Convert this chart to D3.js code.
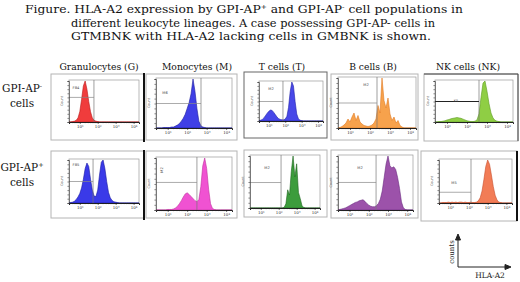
<!DOCTYPE html>
<html>
<head>
<meta charset="utf-8">
<script src="https://cdn.jsdelivr.net/npm/d3@7"></script>
<style>
  body { margin: 0; background: #fff; }
  svg { display: block; }
</style>
</head>
<body>
<div id="chart"></div>
<script>
// ---- data ----
const captionLines = [
  [["Figure. HLA-A2 expression by GPI-AP"], ["+", 1], [" and GPI-AP"], ["-", 1], [" cell populations in"]],
  [["different leukocyte lineages. A case possessing GPI-AP- cells in"]],
  [["GTMBNK with HLA-A2 lacking cells in GMBNK is shown."]]
];
const lineages = ["Granulocytes (G)", "Monocytes (M)", "T cells (T)", "B cells (B)", "NK cells (NK)"];
const rowLabels = [["GPI-AP", "-"], ["GPI-AP", "+"]];
const decadeTicks = [1, 2, 3, 4];
const tickLabels = ["10\u00b9", "10\u00b2", "10\u00b3", "10\u2074"];
const binDecades = d3.range(4, 44).map(i => i / 10); // 0.4 .. 4.3 log decades

// counts per bin (% of peak), row 1 = GPI-AP- , row 2 = GPI-AP+
const histG1  = [0,0,1,2,4,10,25,55,88,100,80,50,25,10,4,2,1, 0,0,0,0,0,0,0,0,0,0,0,0,0,0,0,0,0,0,0,0,0,0,0];
const histM1  = [0,0,0,0,1,1,1,1,2, 2,4,6,9,14,20,28,40,52,70,100,75,40,14,5,2,1, 0,0,0,0,0,0,0,0,0,0,0,0,0,0];
const histT1  = [1,2,4,8,14,20,25,28,27,22,16,10,6,4,3,3,5,12,35,75,100,90,50,18,6,2,1, 0,0,0,0,0,0,0,0,0,0,0,0,0];
const histB1  = [0,1,3,6,10,18,12,22,30,15,25,12,8,5,4,3,4,6,10,18,45,30,100,55,40,60,28,15,22,10,15,5,2, 0,0,0,0,0,0,0];
const histNK1 = [0,0,1,1,2,3,5,6,8,9,10,11,10,9,7,5,3,2,1,1,2,5,20,60,95,100,75,45,22,10,4,2,1, 0,0,0,0,0,0,0];
const histG2  = [0,1,2,4,8,14,22,35,55,80,93,85,55,30,16,15,30,65,95,100,80,50,25,12,6,3,2,1, 0,0,0,0,0,0,0,0,0,0,0,0];
const histM2  = [0,0,0,0,0,0,1,1,1, 2,4,7,12,18,25,31,33,30,26,22,18,16,20,45,85,100,80,40,12,3,1, 0,0,0,0,0,0,0,0,0];
const histT2  = [0,0,0,0,0,0,0,0,0,0,0,0,0,0,0,0,0,0,0, 1, 8,35,25,70,100,60,85,30,18,4,1, 0,0,0,0,0,0,0,0,0];
const histB2  = [0,1,2,3,4,6,8,10,12,14,15,17,18,19,16,12,9,7,6,6,8,12,20,35,60,85,100,82,78,80,75,60,40,15,4,1, 0,0,0,0];
const histNK2 = [0,0,1,1,1,2,1,2,1,2,1,2,2,1,2,1,1,2,1,1,2,5,12,28,55,85,100,90,65,38,18,7,2,1, 0,0,0,0,0,0];

const gateDecade = [1.79, 2.71, 1.86, 2.35, 2.6, 1.74, 2.5, 2.13, 2.38, 2.11];
const gateLevel  = [60, 50, 50, 50, 50, 50, 53, 49, 51, 25];
const gateNames  = ["FB4", "M6", "M2", "M2", "K5", "FB5", "M2", "M2", "M2", "M5"];

// ---- layout ----
const W = 520, H = 282;
const hists = [histG1, histM1, histT1, histB1, histNK1, histG2, histM2, histT2, histB2, histNK2];
const fills   = ["#f03c3c", "#3f3fe6", "#4848e8", "#f7a24c", "#8fce44", "#3a3ae8", "#f052d2", "#3c9c3c", "#9c52aa", "#f27c56"];
const strokes = ["#b81818", "#1c1c9c", "#2020a8", "#e07820", "#5c9a22", "#1a1aa0", "#c0309e", "#1c641c", "#6a2a80", "#c84e2c"];
// frame [x0,y0,x1,y1], plot box [x0,y0,x1,y1], label position
const frames = [
  [51, 74, 144, 140], [146, 74, 237, 140], [244, 72, 327, 138], [331, 74, 418, 140], [424, 74, 518, 141],
  [51, 151, 144, 218], [146, 151, 237, 218], [244, 150, 327, 217], [331, 150, 418, 218], [421, 151, 517, 221]
];
const boxes = [
  [69, 80, 139, 122], [156, 78, 232, 128], [259, 81, 323, 121], [338, 77, 416, 128], [435, 80, 513, 122],
  [69, 159, 139, 203], [156, 157, 232, 210], [250, 155, 320, 208], [338, 155, 413, 210], [439, 159, 512, 203]
];
const labelPos = [[76, 89], [165, 94], [271, 90], [366, 86], [456, 102], [76, 166], [163, 170], [267, 169], [360, 169], [454, 184]];
const titleX = [99, 197, 282, 373, 468];

const svg = d3.select("#chart").append("svg")
  .attr("width", W).attr("height", H)
  .attr("viewBox", `0 0 ${W} ${H}`);

const serif = "'DejaVu Serif', 'Liberation Serif', serif";

// caption
const capX = [25, 71, 71], capY = [13, 27, 40], capLen = [438, 364, 360];
captionLines.forEach((segs, i) => {
  const t = svg.append("text")
    .attr("x", capX[i]).attr("y", capY[i])
    .attr("font-family", serif).attr("font-size", 11).attr("fill", "#111")
    .attr("textLength", capLen[i]).attr("lengthAdjust", "spacingAndGlyphs");
  segs.forEach((s, j) => {
    const ts = t.append("tspan").text(s[0]);
    if (s[1]) ts.attr("font-size", 6.5).attr("dy", -4);
    else if (j > 0 && segs[j - 1][1]) ts.attr("dy", 4);
  });
});

// column titles
lineages.forEach((name, i) => {
  svg.append("text")
    .attr("x", titleX[i]).attr("y", 70)
    .attr("text-anchor", "middle")
    .attr("font-family", serif).attr("font-size", 9.2).attr("fill", "#111")
    .text(name);
});

// row labels
const rowY = [92, 171];
rowLabels.forEach((lab, r) => {
  const t = svg.append("text")
    .attr("x", 22).attr("y", rowY[r])
    .attr("text-anchor", "middle")
    .attr("font-family", serif).attr("font-size", 10.5).attr("fill", "#111");
  t.append("tspan").text(lab[0]);
  t.append("tspan").text(lab[1]).attr("font-size", 6.5).attr("dy", -4);
  svg.append("text")
    .attr("x", 22).attr("y", rowY[r] + 15)
    .attr("text-anchor", "middle")
    .attr("font-family", serif).attr("font-size", 10.5).attr("fill", "#111")
    .text("cells");
});

// panels
hists.forEach((vals, i) => {
  const f = frames[i], b = boxes[i];
  const g = svg.append("g");

  g.append("rect")
    .attr("x", f[0]).attr("y", f[1])
    .attr("width", f[2] - f[0]).attr("height", f[3] - f[1])
    .attr("fill", "#fff")
    .attr("stroke", i === 2 ? "#666" : "#b4b4b4").attr("stroke-width", 1);

  const x = d3.scaleLinear().domain([0.4, 4.3]).range([b[0], b[2]]);
  const y = d3.scaleLinear().domain([0, 100]).range([b[3], b[1] + 1]);

  // plot box
  g.append("rect")
    .attr("x", b[0]).attr("y", b[1])
    .attr("width", b[2] - b[0]).attr("height", b[3] - b[1])
    .attr("fill", "none").attr("stroke", "#9a9a9a").attr("stroke-width", 0.7);

  // histogram
  const area = d3.area()
    .x((d, j) => x(binDecades[j]))
    .y0(y(0))
    .y1(d => y(d));
  g.append("path")
    .datum(vals)
    .attr("d", area)
    .attr("fill", fills[i])
    .attr("stroke", strokes[i]).attr("stroke-width", 0.6);

  // gate lines
  const gx = x(gateDecade[i]);
  g.append("line")
    .attr("x1", gx).attr("x2", gx).attr("y1", b[1]).attr("y2", b[3])
    .attr("stroke", "#777").attr("stroke-width", 0.7);
  g.append("line")
    .attr("x1", b[0]).attr("x2", gx).attr("y1", y(gateLevel[i])).attr("y2", y(gateLevel[i]))
    .attr("stroke", i === 4 ? "#222" : "#888").attr("stroke-width", i === 4 ? 1.2 : 0.7);

  const lt = g.append("text")
    .attr("x", labelPos[i][0]).attr("y", labelPos[i][1])
    .attr("text-anchor", "middle")
    .attr("font-family", "'DejaVu Sans', sans-serif").attr("font-size", 3.6).attr("fill", "#444")
    .text(gateNames[i]);
  if (i === 6) lt.attr("transform", `rotate(-90 ${labelPos[i][0]} ${labelPos[i][1]})`);

  // axes
  const xa = g.append("g").attr("transform", `translate(0,${b[3]})`)
    .call(d3.axisBottom(x).tickValues(decadeTicks).tickSize(2).tickPadding(1.5)
      .tickFormat((d, j) => tickLabels[j]));
  xa.select(".domain").attr("stroke", "#111").attr("stroke-width", 0.9);
  xa.selectAll(".tick line").attr("stroke", "#111").attr("stroke-width", 0.6);
  xa.selectAll("text").attr("font-size", 4).attr("font-family", serif).attr("fill", "#333");
  // minor log ticks
  const minor = [];
  [0, 1, 2, 3, 4].forEach(dec => [2, 3, 4, 5, 6, 7, 8, 9].forEach(k => {
    const u = dec + Math.log10(k);
    if (u > 0.4 && u < 4.3) minor.push(u);
  }));
  xa.selectAll(".minor").data(minor).join("line")
    .attr("class", "minor")
    .attr("x1", d => x(d)).attr("x2", d => x(d)).attr("y1", 0).attr("y2", 1.2)
    .attr("stroke", "#222").attr("stroke-width", 0.4);

  const ya = g.append("g").attr("transform", `translate(${b[0]},0)`)
    .call(d3.axisLeft(y).ticks(10).tickSize(1.6).tickFormat(""));
  ya.select(".domain").attr("stroke", "#333").attr("stroke-width", 0.6);
  ya.selectAll(".tick line").attr("stroke", "#222").attr("stroke-width", 0.5);

  const cy = (b[1] + b[3]) / 2;
  g.append("text")
    .attr("transform", `translate(${b[0] - 6},${cy}) rotate(-90)`)
    .attr("text-anchor", "middle")
    .attr("font-family", "'DejaVu Sans', sans-serif").attr("font-size", 3.4).attr("fill", "#555")
    .text("Count");

  // dark edges seen in the figure
  if (i === 0 || i === 5) {
    g.append("line").attr("x1", f[2]).attr("x2", f[2]).attr("y1", f[1] - 1).attr("y2", f[3] + 2)
      .attr("stroke", "#111").attr("stroke-width", 2);
  }
  if (i === 9) {
    g.append("line").attr("x1", f[2]).attr("x2", f[2]).attr("y1", f[1]).attr("y2", f[3])
      .attr("stroke", "#111").attr("stroke-width", 2);
  }
  if (i === 4) {
    g.append("path").attr("d", `M${f[0]},${f[1]}H${f[2]}V${f[3]}`)
      .attr("fill", "none").attr("stroke", "#444").attr("stroke-width", 1);
  }
});

// axis key (counts / HLA-A2)
const ox = 458, oy = 267;
const key = svg.append("g").attr("stroke", "#222").attr("stroke-width", 1).attr("fill", "#222");
key.append("line").attr("x1", ox).attr("y1", oy).attr("x2", ox).attr("y2", 238);
key.append("line").attr("x1", ox).attr("y1", oy).attr("x2", 507).attr("y2", oy);
key.append("path").attr("d", `M${ox - 2.5},${240} L${ox},${234} L${ox + 2.5},${240}Z`);
key.append("path").attr("d", `M${505},${oy - 2.5} L${511},${oy} L${505},${oy + 2.5}Z`);
svg.append("text")
  .attr("transform", `translate(${ox - 4},${252}) rotate(-90)`)
  .attr("text-anchor", "middle")
  .attr("font-family", serif).attr("font-size", 7).attr("fill", "#222")
  .text("counts");
svg.append("text")
  .attr("x", 490).attr("y", 278)
  .attr("text-anchor", "middle")
  .attr("font-family", serif).attr("font-size", 7.5).attr("fill", "#222")
  .text("HLA-A2");
</script>
</body>
</html>
